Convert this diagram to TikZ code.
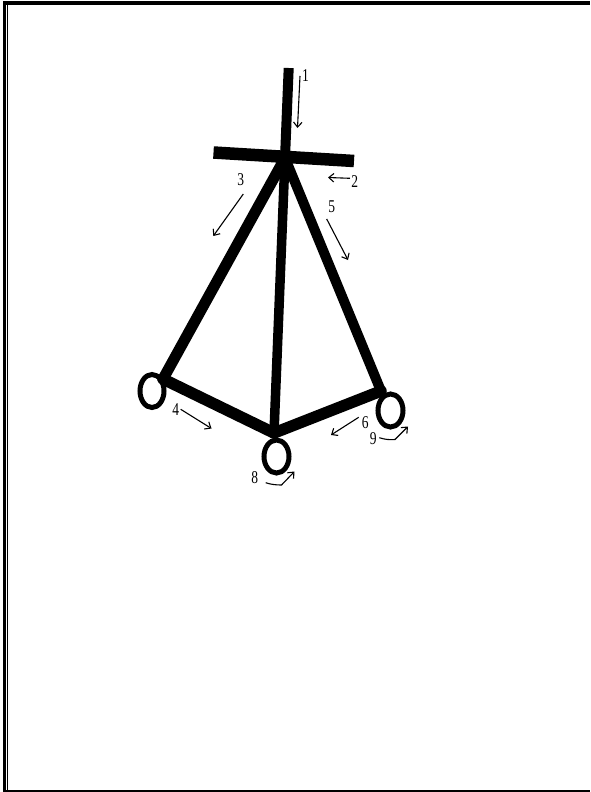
\documentclass[tikz,border=0pt]{standalone}
\usepackage{fontspec}
\setmainfont{Liberation Serif}
\usetikzlibrary{arrows.meta}
\tikzset{
  bar/.style={line width=#1,line cap=butt,black},
  frame/.style={black,fill=black,draw=none},
  ringshape/.style={draw=black,line width=5pt,fill=none},
  flow/.style={line width=1.1pt,-{Straight Barb[length=5pt,width=8.5pt,line width=1.1pt]}},
  lab/.style={font=\fontsize{18}{18}\selectfont,inner sep=0pt,xscale=0.75,transform shape}
}
\begin{document}
\begin{tikzpicture}[x=1pt,y=-1pt]
\useasboundingbox (0,0) rectangle (590,792);
% page frame
\fill[frame] (3,1) rectangle (590,5);
\fill[frame] (3,1) rectangle (6,792);
\fill[frame] (7,5) rectangle (8,790);
\fill[frame] (3,790) rectangle (590,792);
% joints
\coordinate (top) at (288.7,68);
\coordinate (hub) at (285,158);
\coordinate (barL) at (213.5,152.5);
\coordinate (barR) at (354,161);
\coordinate (jl) at (163,379);
\coordinate (jm) at (274,433);
\coordinate (jr) at (381,391);
% frame members
\draw[bar=10pt] (top) -- (hub);
\draw[bar=12.5pt] (barL) -- (barR);
\draw[bar=11pt,line cap=round] (hub) -- (jl);
\draw[bar=9.5pt] (hub) -- (jm);
\draw[bar=10pt,line cap=round] (hub) -- (jr);
\draw[bar=11.5pt,line cap=round] (jl) -- (jm);
\draw[bar=11.5pt,line cap=round] (jm) -- (jr);
% supports
\draw[ringshape] (152,391) ellipse [x radius=12pt,y radius=16.5pt];
\draw[ringshape] (276.5,456.5) ellipse [x radius=12.5pt,y radius=16.5pt];
\draw[ringshape] (390.5,410.5) ellipse [x radius=12.5pt,y radius=16.5pt];
% arrow ends
\coordinate (a1s) at (300,76);   \coordinate (a1e) at (297.5,128);
\coordinate (a2s) at (350,178.3);\coordinate (a2e) at (328,177.5);
\coordinate (a3s) at (243.3,194);\coordinate (a3e) at (213.3,236);
\coordinate (a5s) at (326.7,219);\coordinate (a5e) at (348,260);
\coordinate (a4s) at (180.7,409.3);\coordinate (a4e) at (211.5,428.5);
\coordinate (a6s) at (358.7,417.3);\coordinate (a6e) at (331,435);
\coordinate (a9s) at (379.3,437.7);\coordinate (a9m) at (395,439.5);\coordinate (a9e) at (408,426.5);
\coordinate (a8s) at (265.7,482.7);\coordinate (a8m) at (281.5,485);\coordinate (a8e) at (294.5,471.5);
\draw[flow] (a1s) -- (a1e);
\draw[flow] (a2s) -- (a2e);
\draw[flow] (a3s) -- (a3e);
\draw[flow] (a5s) -- (a5e);
\draw[flow] (a4s) -- (a4e);
\draw[flow] (a6s) -- (a6e);
\draw[flow] (a9s) .. controls (385,439.5) and (390,440) .. (a9m) -- (a9e);
\draw[flow] (a8s) .. controls (271,484.5) and (276,485) .. (a8m) -- (a8e);
% labels
\node[lab] (l1) at (305.5,75.5) {1};
\node[lab] (l2) at (354.7,181.7) {2};
\node[lab] (l3) at (240.7,179.3) {3};
\node[lab] (l4) at (175.7,409.3) {4};
\node[lab] (l5) at (331.7,206.7) {5};
\node[lab] (l6) at (365.3,422.7) {6};
\node[lab] (l8) at (254.7,477.7) {8};
\node[lab] (l9) at (373.3,438.3) {9};
\end{tikzpicture}
\end{document}
